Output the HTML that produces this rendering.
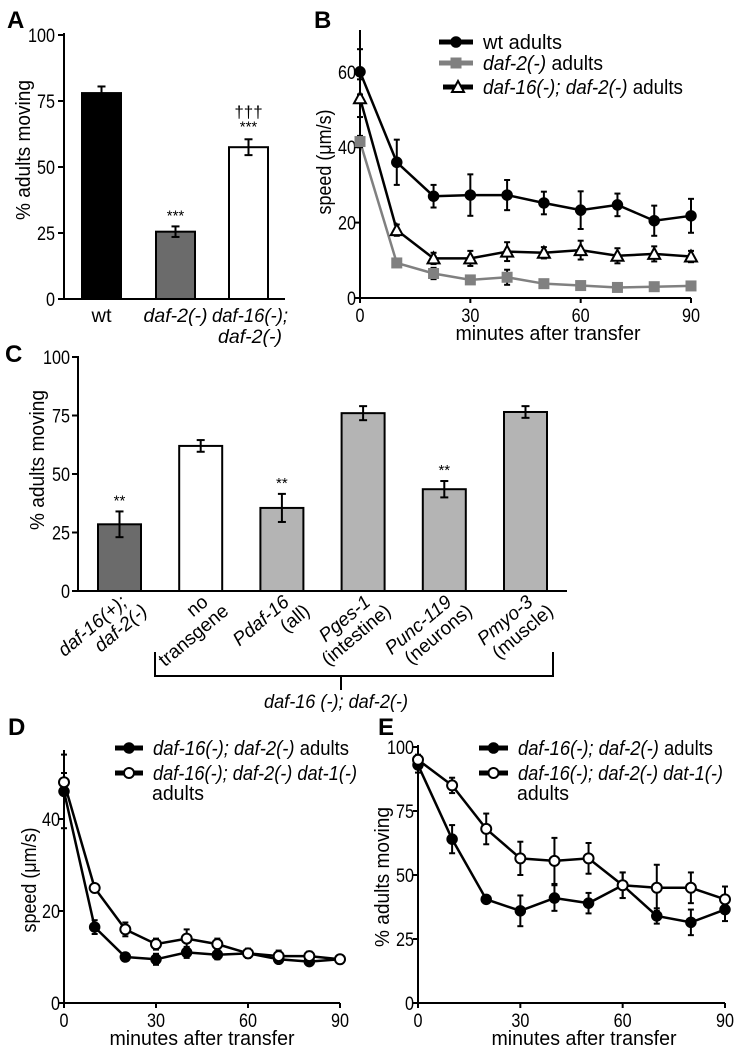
<!DOCTYPE html>
<html><head><meta charset="utf-8"><style>
html,body{margin:0;padding:0;background:#fff;}
svg{display:block;font-family:"Liberation Sans Narrow","Liberation Sans",sans-serif;}
</style></head><body>
<svg id="fig" width="735" height="1050" viewBox="0 0 735 1050"></svg>
<script>
// Panel A
const aCats=["wt","daf-2(-)","daf-16(-);"];
const aVals=[78,25.5,57.5];
const aErr=[2.5,2,3];
const aTicks=[0,25,50,75,100];
// Panel B
const bX=[0,10,20,30,40,50,60,70,80,90];
const bWt=[60,36,27,27.3,27.3,25.2,23.3,24.7,20.5,21.8];
const bWtErr=[6,6,3,5.5,4,3,5,3,4,4.5];
const bDaf2=[41.5,9.3,6.5,4.8,5.5,3.8,3.3,2.8,3,3.2];
const bDaf2Err=[1.5,1,1.5,0.8,2,0.8,0.6,0.6,0.6,0.6];
const bDaf16=[53,18,10.5,10.5,12.3,12,12.7,11.2,11.7,11];
const bDaf16Err=[5,1.5,1.5,2,2.5,1.5,2.5,2,2,1.5];
const bTicksY=[0,20,40,60];
const xTicks=[0,30,60,90];
// Panel C
const cVals=[28.5,62,35.5,76,43.5,76.5];
const cErr=[5.5,2.5,6,3,3.5,2.5];
const cSig=["**","","**","","**",""];
const cL1=["daf-16(+);","no","Pdaf-16","Pges-1","Punc-119","Pmyo-3"];
const cL2=["daf-2(-)","transgene","(all)","(intestine)","(neurons)","(muscle)"];
// Panel D
const dX=[0,10,20,30,40,50,60,70,80,90];
const dFilled=[46,16.5,10,9.5,11,10.5,10.8,9.5,9,9.5];
const dFilledErr=[8,1.5,0.8,1.2,1.2,1,1,0.8,0.8,0.8];
const dOpen=[48,25,16,12.8,14,12.8,10.8,10.2,10.2,9.5];
const dOpenErr=[2,0.8,1.5,1.2,2,1.2,1,1.2,1,0.8];
const dTicksY=[0,20,40];
// Panel E
const eFilled=[93,64,40.5,36,41,39,46,34,31.5,36.5];
const eFilledErr=[3,5.5,1.5,6,5,4,5,3,5,4.5];
const eOpen=[95,85,68,56.5,55.5,56.5,46,45,45,40.5];
const eOpenErr=[2,3,6,6.5,9,6,5,9,6,5];
const eTicksY=[0,25,50,75,100];

const svg=document.getElementById('fig');
const NS='http://www.w3.org/2000/svg';
function el(tag,attrs,parent){const e=document.createElementNS(NS,tag);for(const k in attrs)e.setAttribute(k,attrs[k]);(parent||svg).appendChild(e);return e;}
function txt(x,y,s,attrs,parent){const t=el('text',Object.assign({x:x,y:y},attrs||{}),parent);t.textContent=s;return t;}
function fit(t,len){t.setAttribute('textLength',len);t.setAttribute('lengthAdjust','spacingAndGlyphs');return t;}
function line(x1,y1,x2,y2,w,c,parent){return el('line',{x1,y1,x2,y2,stroke:c||'#000','stroke-width':w||2},parent);}
function errbar(x,y1,y2,cap,parent,c){line(x,y1,x,y2,2,c||'#000',parent);line(x-cap,y1,x+cap,y1,2,c||'#000',parent);line(x-cap,y2,x+cap,y2,2,c||'#000',parent);}
function letter(x,y,s,name){const t=txt(x,y,s,{'font-size':24,'font-weight':'bold','font-family':'Liberation Sans, sans-serif'});}
function tickLabel(x,y,s,anchor,parent){const l=txt(x,y,s,{'font-size':19,'text-anchor':anchor},parent);fit(l,s.length*9);return l;}

// ---------- Panel A ----------
const gA=el('g',{});


letter(7,28,'A','panel-a-label');
const aY=v=>299-v*2.64;
line(64,33,64,300,2,'#000',gA);
line(63,299,285,299,2,'#000',gA);
aTicks.forEach(t=>{line(58,aY(t),64,aY(t),2,'#000',gA);tickLabel(55,aY(t)+7,String(t),'end',gA);});
const aYT=fit(txt(0,0,'% adults moving',{'font-size':20,'text-anchor':'middle',transform:'translate(30,150) rotate(-90)'},gA),140);

const aFill=['#000','#6b6b6b','#fff'];
const aX0=[82,156,229];
aVals.forEach((v,i)=>{const r=el('rect',{x:aX0[i],y:aY(v),width:39,height:299-aY(v),fill:aFill[i],stroke:'#000','stroke-width':2},gA);
errbar(aX0[i]+19.5,aY(v+aErr[i]),aY(v-aErr[i]),4,gA);});
txt(175.5,aY(aVals[1]+aErr[1])-6,'***',{'font-size':15,'text-anchor':'middle'},gA);
txt(248.5,aY(aVals[2]+aErr[2])-8,'***',{'font-size':15,'text-anchor':'middle'},gA);
txt(248.5,aY(aVals[2]+aErr[2])-22,'†††',{'font-size':17,'text-anchor':'middle'},gA);
fit(txt(101.5,322,'wt',{'font-size':19,'text-anchor':'middle'},gA),20);
fit(txt(175.5,322,'daf-2(-)',{'font-size':19,'text-anchor':'middle','font-style':'italic'},gA),64);
fit(txt(250,322,'daf-16(-);',{'font-size':19,'text-anchor':'middle','font-style':'italic'},gA),76);
fit(txt(250,343,'daf-2(-)',{'font-size':19,'text-anchor':'middle','font-style':'italic'},gA),64);

// ---------- line chart helper ----------
function marker(x,y,type,color,parent,name){
  let m;
  if(type==='circle')m=el('circle',{cx:x,cy:y,r:5,fill:color,stroke:'#000','stroke-width':1.5},parent);
  else if(type==='ocircle')m=el('circle',{cx:x,cy:y,r:5,fill:'#fff',stroke:'#000','stroke-width':2},parent);
  else if(type==='square')m=el('rect',{x:x-5.5,y:y-5.5,width:11,height:11,fill:color},parent);
  else m=el('polygon',{points:`${x},${y-6} ${x-6},${y+5} ${x+6},${y+5}`,fill:'#fff',stroke:'#000','stroke-width':2},parent);
  
}
function series(g,xs,ys,errs,X,Y,type,color,name){
  const pts=xs.map((x,i)=>X(x)+','+Y(ys[i])).join(' ');
  const p=el('polyline',{points:pts,fill:'none',stroke:color,'stroke-width':2.5},g);
  
  xs.forEach((x,i)=>errbar(X(x),Y(ys[i]+errs[i]),Y(ys[i]-errs[i]),3,g,'#000'));
  xs.forEach((x,i)=>marker(X(x),Y(ys[i]),type,color,g,name+'-point'));
}
function axes(g,x0,x1,y0,yTop,X,Y,ticksY){
  line(x0,yTop,x0,y0+1,2,'#000',g);
  line(x0-1,y0,x1,y0,2,'#000',g);
  ticksY.forEach(t=>{line(x0-5,Y(t),x0,Y(t),2,'#000',g);tickLabel(x0-4,Y(t)+7,String(t),'end',g);});
  xTicks.forEach(t=>{line(X(t),y0,X(t),y0+5,2,'#000',g);tickLabel(X(t),y0+24,String(t),'middle',g);});
}
function legendEntry(g,x1,x2,y,type,color,len,parts,name){
  const gg=el('g',{},g);
  line(x1,y,x2,y,5,color,gg);marker((x1+x2)/2,y,type,color,gg,name+'-marker');
  const t=el('text',{x:x2+10,y:y+7,'font-size':20},gg);
  parts.forEach(p=>{const ts=el('tspan',p[1]?{'font-style':'italic'}:{},t);ts.textContent=p[0];});
  fit(t,len);
}

// ---------- Panel B ----------
const gB=el('g',{});
letter(314,28,'B','panel-b-label');
const bXs=v=>360+v*(331/90), bYs=v=>298-v*3.77;
axes(gB,360,691,298,30,bXs,bYs,bTicksY);
const bT=fit(txt(0,0,'speed (μm/s)',{'font-size':20,'text-anchor':'middle',transform:'translate(331,162) rotate(-90)'},gB),105);
const bXT=fit(txt(548,340,'minutes after transfer',{'font-size':20,'text-anchor':'middle'},gB),185);
series(gB,bX,bDaf2,bDaf2Err,bXs,bYs,'square','#808080','daf2');
series(gB,bX,bDaf16,bDaf16Err,bXs,bYs,'tri','#000','daf16');
series(gB,bX,bWt,bWtErr,bXs,bYs,'circle','#000','wt');
legendEntry(gB,439,473,42,'circle','#000',79,[['wt adults',0]],'legend-wt');
legendEntry(gB,439,473,63,'square','#808080',120,[['daf-2(-)',1],[' adults',0]],'legend-daf2');
legendEntry(gB,443,473,87,'tri','#000',200,[['daf-16(-); daf-2(-)',1],[' adults',0]],'legend-daf16');

// ---------- Panel C ----------
const gC=el('g',{});
letter(5,362,'C','panel-c-label');
const cY=v=>591-v*2.34;
line(78,356,78,592,2,'#000',gC);line(77,591,567,591,2,'#000',gC);
aTicks.forEach(t=>{line(72,cY(t),78,cY(t),2,'#000',gC);tickLabel(70,cY(t)+7,String(t),'end',gC);});
const cYT=fit(txt(0,0,'% adults moving',{'font-size':20,'text-anchor':'middle',transform:'translate(44,460) rotate(-90)'},gC),140);
const cFill=['#6b6b6b','#fff','#b4b4b4','#b4b4b4','#b4b4b4','#b4b4b4'];
cVals.forEach((v,i)=>{const x=98+i*81.2;const r=el('rect',{x:x,y:cY(v),width:43,height:591-cY(v),fill:cFill[i],stroke:'#000','stroke-width':2},gC);
errbar(x+21.5,cY(v+cErr[i]),cY(v-cErr[i]),4,gC);
if(cSig[i])txt(x+21.5,cY(v+cErr[i])-6,cSig[i],{'font-size':15,'text-anchor':'middle'},gC);
const lx=x+30,ly=604;
const l=el('text',{'font-size':19,'text-anchor':'end',transform:`translate(${lx},${ly}) rotate(-40)`},gC);
const t1=el('tspan',{x:0,dy:0,'font-style':i===1?'normal':'italic'},l);t1.textContent=cL1[i];
const t2=el('tspan',{x:10,dy:20,'font-style':(i===0)?'italic':'normal'},l);t2.textContent=cL2[i];
});
const br=el('polyline',{points:'155,652 155,676 553,676 553,652',fill:'none',stroke:'#000','stroke-width':2},gC);
line(341,676,341,690,2,'#000',gC);
const bl=fit(txt(336,708,'daf-16 (-); daf-2(-)',{'font-size':19,'text-anchor':'middle','font-style':'italic'},gC),144);

// ---------- Panel D ----------
const gD=el('g',{});
letter(8,735,'D','panel-d-label');
const dXs=v=>64+v*(276/90), dYs=v=>1003-v*4.6;
axes(gD,64,340,1003,750,dXs,dYs,dTicksY);
const dT=fit(txt(0,0,'speed (μm/s)',{'font-size':20,'text-anchor':'middle',transform:'translate(36,880) rotate(-90)'},gD),105);
const dXT=fit(txt(202,1045,'minutes after transfer',{'font-size':20,'text-anchor':'middle'},gD),185);
series(gD,dX,dFilled,dFilledErr,dXs,dYs,'circle','#000','d-filled');
series(gD,dX,dOpen,dOpenErr,dXs,dYs,'ocircle','#000','d-open');
legendEntry(gD,115,143,748,'circle','#000',196,[['daf-16(-); daf-2(-)',1],[' adults',0]],'legend-d-filled');
legendEntry(gD,115,143,773,'ocircle','#000',204,[['daf-16(-); daf-2(-) dat-1(-)',1]],'legend-d-open');
fit(txt(152,800,'adults',{'font-size':20},gD),52);

// ---------- Panel E ----------
const gE=el('g',{});
letter(378,735,'E','panel-e-label');
const eXs=v=>418+v*(307/90), eYs=v=>1003-v*2.56;
axes(gE,418,725,1003,745,eXs,eYs,eTicksY);
const eT=fit(txt(0,0,'% adults moving',{'font-size':20,'text-anchor':'middle',transform:'translate(389,877) rotate(-90)'},gE),140);
const eXT=fit(txt(584,1045,'minutes after transfer',{'font-size':20,'text-anchor':'middle'},gE),185);
series(gE,dX,eFilled,eFilledErr,eXs,eYs,'circle','#000','e-filled');
series(gE,dX,eOpen,eOpenErr,eXs,eYs,'ocircle','#000','e-open');
legendEntry(gE,479,508,748,'circle','#000',195,[['daf-16(-); daf-2(-)',1],[' adults',0]],'legend-e-filled');
legendEntry(gE,479,508,773,'ocircle','#000',205,[['daf-16(-); daf-2(-) dat-1(-)',1]],'legend-e-open');
fit(txt(517,800,'adults',{'font-size':20},gE),52);
</script>
</body></html>
